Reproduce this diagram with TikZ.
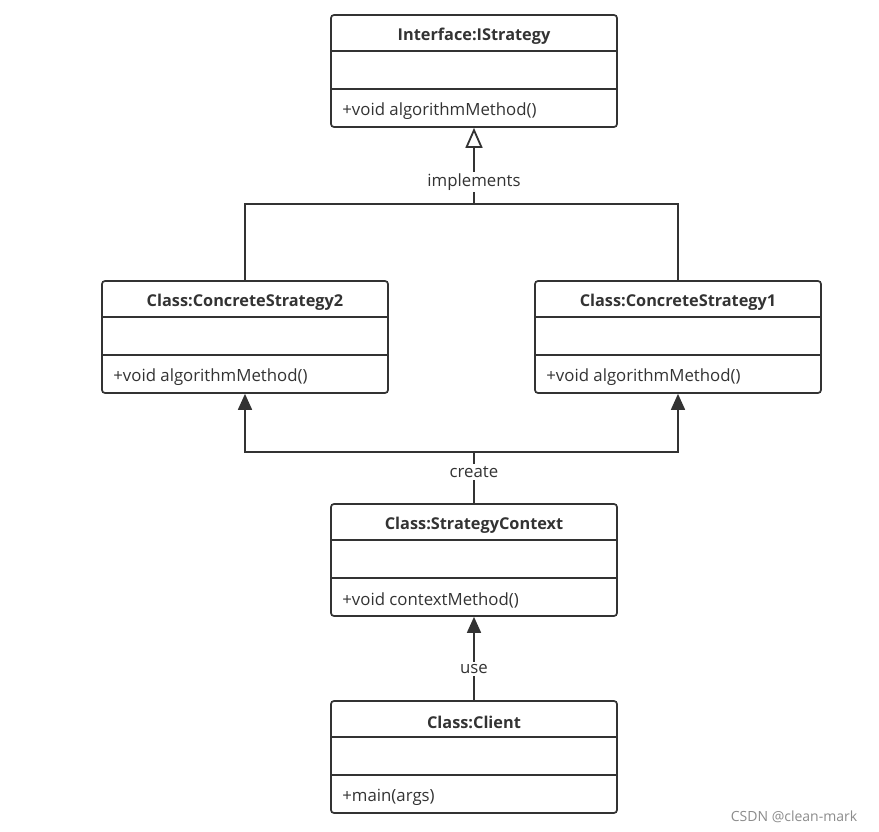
\documentclass[tikz,border=0pt]{standalone}
\usepackage{fontspec}
\setmainfont{Open Sans}
\usetikzlibrary{arrows.meta,calc}
\definecolor{ink}{RGB}{51,51,51}
\newcommand\umlclass[5]{%
  % #1 name, #2 center x, #3 top y, #4 title, #5 method
  \node[classbox] (#1) at (#2,#3+56) {};
  \draw[ink,line width=1.7pt] ($(#1.north west)+(0,37)$) -- ($(#1.north east)+(0,37)$);
  \draw[ink,line width=1.7pt] ($(#1.north west)+(0,75)$) -- ($(#1.north east)+(0,75)$);
  \node[titletext] (#1-t) at ($(#1.north)+(0,22)$) {#4};
  \node[methodtext,anchor=west] (#1-m) at ($(#1.north west)+(12,97)$) {#5};
}
\begin{document}
\begin{tikzpicture}[x=1pt,y=-1pt,
  classbox/.style={draw=ink,line width=1.7pt,rounded corners=3pt,minimum width=286pt,minimum height=112pt,inner sep=0pt,fill=white},
  titletext/.style={font=\fontsize{16.3}{19}\selectfont\bfseries,text=ink,inner sep=0pt},
  methodtext/.style={font=\fontsize{16.8}{19}\selectfont,text=ink,inner sep=0pt},
  conn/.style={draw=ink,line width=1.7pt},
  lbl/.style={font=\fontsize{16.8}{19}\selectfont,text=ink,fill=white,inner sep=2pt},
  openarrow/.style={-{Triangle[open,length=20pt,width=17pt,line width=1.8pt]}},
  fullarrow/.style={-{Triangle[length=16pt,width=14pt]}}]
\useasboundingbox[fill=white] (0,0) rectangle (879,832);

\umlclass{istrat}{474}{15}{Interface:IStrategy}{+void algorithmMethod()}
\umlclass{cs2}{245}{281}{Class:ConcreteStrategy2}{+void algorithmMethod()}
\umlclass{cs1}{678}{281}{Class:ConcreteStrategy1}{+void algorithmMethod()}
\umlclass{ctx}{474}{504}{Class:StrategyContext}{+void contextMethod()}
\umlclass{client}{474}{701}{Class:Client}{+main(args)}

% implements
\coordinate (jI) at (474,204);
\draw[conn] (cs2.north) |- (jI) -| (cs1.north);
\draw[conn,openarrow] (jI) -- (istrat.south);
\node[lbl] (limpl) at (474,182) {implements};

% create
\coordinate (jC) at (474,452);
\draw[conn] (ctx.north) -- (jC);
\draw[conn,fullarrow] (jC) -| (cs2.south);
\draw[conn,fullarrow] (jC) -| (cs1.south);
\node[lbl] (lcreate) at (474,472) {create};

% use
\draw[conn,fullarrow] (client.north) -- (ctx.south);
\node[lbl] (luse) at (474,669) {use};

\node[font=\fontsize{14}{16}\selectfont,text=black!45,inner sep=0pt] (wm) at (794,817) {CSDN @clean-mark};
\end{tikzpicture}
\end{document}
